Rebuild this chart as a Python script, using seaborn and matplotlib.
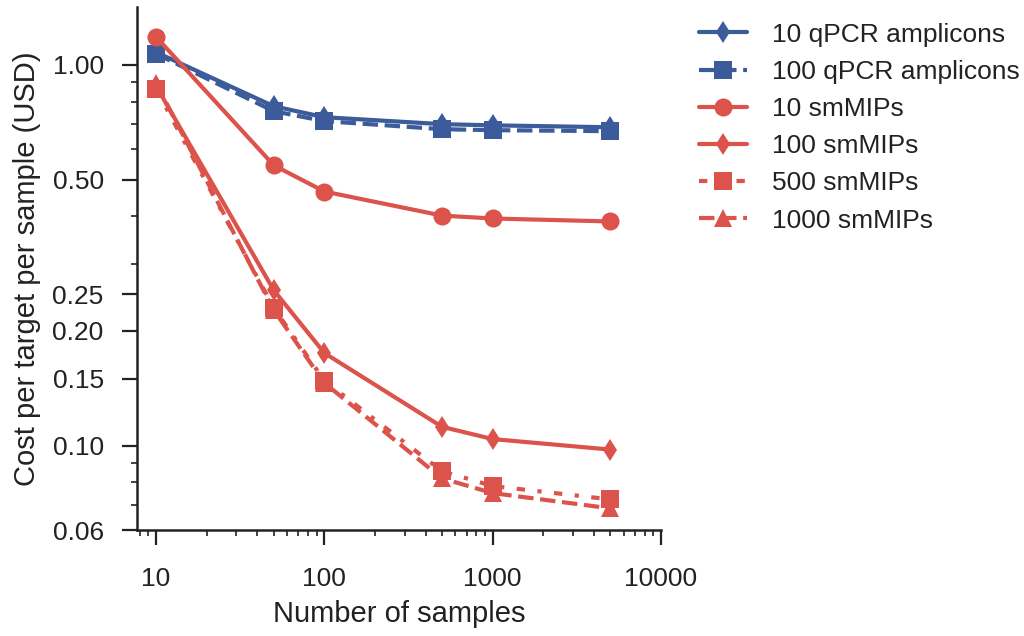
import matplotlib
matplotlib.use("Agg")
import matplotlib.pyplot as plt
import pandas as pd
import seaborn as sns
from matplotlib.ticker import FixedLocator, FixedFormatter, LogLocator, NullFormatter

# Number of samples processed per run
samples = [10, 50, 100, 500, 1000, 5000]

# Cost per target per sample (USD) for each assay configuration
qpcr_10 = [1.08, 0.779, 0.729, 0.699, 0.694, 0.686]
qpcr_100 = [1.07, 0.756, 0.712, 0.678, 0.674, 0.670]
smmips_10 = [1.185, 0.545, 0.465, 0.402, 0.395, 0.388]
smmips_100 = [0.880, 0.256, 0.175, 0.112, 0.104, 0.0976]
smmips_500 = [0.864, 0.230, 0.148, 0.0856, 0.0783, 0.0722]
smmips_1000 = [0.895, 0.227, 0.146, 0.082, 0.075, 0.0684]

series_names = ["10 qPCR amplicons", "100 qPCR amplicons", "10 smMIPs",
                "100 smMIPs", "500 smMIPs", "1000 smMIPs"]
series_values = [qpcr_10, qpcr_100, smmips_10, smmips_100, smmips_500, smmips_1000]

y_ticks = [0.06, 0.10, 0.15, 0.20, 0.25, 0.50, 1.00]
y_tick_labels = ["0.06", "0.10", "0.15", "0.20", "0.25", "0.50", "1.00"]
x_ticks = [10, 100, 1000, 10000]
x_tick_labels = ["10", "100", "1000", "10000"]

BLUE = "#3B5B9A"
RED = "#DC534B"
INK = "#222222"

rows = []
for name, vals in zip(series_names, series_values):
    for s, v in zip(samples, vals):
        rows.append({"samples": s, "cost": v, "assay": name})
df = pd.DataFrame(rows)

palette = {
    "10 qPCR amplicons": BLUE,
    "100 qPCR amplicons": BLUE,
    "10 smMIPs": RED,
    "100 smMIPs": RED,
    "500 smMIPs": RED,
    "1000 smMIPs": RED,
}
markers = {
    "10 qPCR amplicons": "d",
    "100 qPCR amplicons": "s",
    "10 smMIPs": "o",
    "100 smMIPs": "d",
    "500 smMIPs": "s",
    "1000 smMIPs": "^",
}
dashes = {
    "10 qPCR amplicons": "",
    "100 qPCR amplicons": (3.7, 1.6),
    "10 smMIPs": "",
    "100 smMIPs": "",
    "500 smMIPs": (2, 3, 1, 3),
    "1000 smMIPs": (3.7, 1.6),
}

sns.set_theme(style="ticks")
plt.rcParams["font.family"] = ["Liberation Sans", "DejaVu Sans"]
plt.rcParams["text.color"] = INK
plt.rcParams["axes.labelcolor"] = INK

fig = plt.figure(figsize=(10.24, 6.36), dpi=100)
ax = fig.add_axes([137 / 1024, 1 - 530 / 636, (661 - 137) / 1024, (530 - 7) / 636])

sns.lineplot(
    data=df, x="samples", y="cost", hue="assay", style="assay",
    hue_order=series_names, style_order=series_names,
    palette=palette, markers=markers, dashes=dashes,
    linewidth=3, markersize=13, markeredgewidth=0,
    errorbar=None, legend=False, ax=ax,
)

for line, name in zip(ax.lines, series_names):
    line.set_label(name)
    if markers[name] == "d":
        line.set_markersize(11.5)

ax.set_xscale("log")
ax.set_yscale("log")
ax.set_xlim(7.7, 10000)
ax.set_ylim(0.06, 1.42)

ax.xaxis.set_major_locator(FixedLocator(x_ticks))
ax.xaxis.set_major_formatter(FixedFormatter(x_tick_labels))
ax.xaxis.set_minor_locator(LogLocator(base=10, subs=range(2, 10), numticks=20))
ax.xaxis.set_minor_formatter(NullFormatter())

ax.yaxis.set_major_locator(FixedLocator(y_ticks))
ax.yaxis.set_major_formatter(FixedFormatter(y_tick_labels))
ax.yaxis.set_minor_locator(LogLocator(base=10, subs=range(2, 10), numticks=20))
ax.yaxis.set_minor_formatter(NullFormatter())

ax.tick_params(which="major", length=11, width=1.6, labelsize=19,
               color=INK, labelcolor=INK)
ax.tick_params(axis="x", which="major", pad=16)
ax.tick_params(axis="y", which="major", pad=13)
ax.tick_params(which="minor", length=4.5, width=1.2, color=INK)

sns.despine(ax=ax)
for side in ("left", "bottom"):
    ax.spines[side].set_linewidth(1.8)
    ax.spines[side].set_color(INK)

ax.set_xlabel("Number of samples", fontsize=21, labelpad=6)
ax.set_ylabel("Cost per target per sample (USD)", fontsize=21, labelpad=8)

handles, labels = ax.get_legend_handles_labels()
ax.legend(handles, labels, loc="upper left",
          bbox_to_anchor=(688 / 1024, 1 - 12 / 636), bbox_transform=fig.transFigure,
          frameon=False, fontsize=19, handlelength=1.82, handletextpad=0.98,
          labelspacing=0.5, borderaxespad=0)

fig.savefig("out.png", dpi=100)
